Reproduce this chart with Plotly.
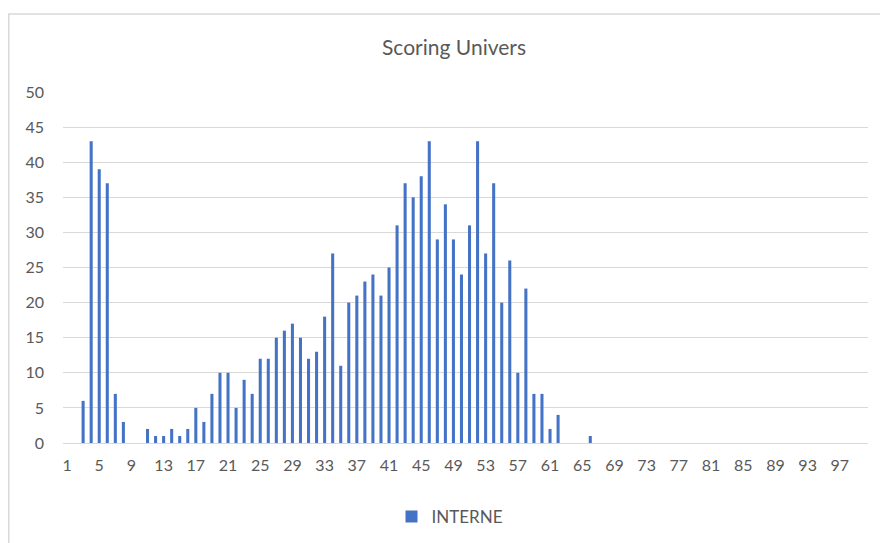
import plotly.graph_objects as go

scores = list(range(1, 101))
counts = [0, 0, 6, 43, 39, 37, 7, 3, 0, 0,
          2, 1, 1, 2, 1, 2, 5, 3, 7, 10,
          10, 5, 9, 7, 12, 12, 15, 16, 17, 15,
          12, 13, 18, 27, 11, 20, 21, 23, 24, 21,
          25, 31, 37, 35, 38, 43, 29, 34, 29, 24,
          31, 43, 27, 37, 20, 26, 10, 22, 7, 7,
          2, 4, 0, 0, 0, 1, 0, 0, 0, 0,
          0, 0, 0, 0, 0, 0, 0, 0, 0, 0,
          0, 0, 0, 0, 0, 0, 0, 0, 0, 0,
          0, 0, 0, 0, 0, 0, 0, 0, 0, 0]
series_name = "INTERNE"
title_text = "Scoring Univers"
x_tick_labels = [str(v) for v in range(1, 101, 4)]
y_ticks = [0, 5, 10, 15, 20, 25, 30, 35, 40, 45, 50]

# page body has an 8px margin, so work in figure coordinates = screen - 8
OFF = 8
W, H = 888 - OFF, 543 - OFF
L, T = 63 - OFF, 92 - OFF
R = W - (868 - OFF)
B = H - (443 - OFF)
pw, ph = W - L - R, H - T - B

font_family = "Lato, 'Open Sans', sans-serif"
grey_text = "#595959"
grid = "#d9d9d9"

fig = go.Figure()
fig.add_trace(go.Bar(x=scores, y=counts, name=series_name,
                     marker=dict(color="#4472C4", line=dict(width=0)),
                     showlegend=True))

fig.update_layout(
    width=W, height=H,
    margin=dict(l=L, r=R, t=T, b=B, autoexpand=False),
    paper_bgcolor="white", plot_bgcolor="white",
    bargap=0.62,
    title=dict(text=title_text, x=(454 - OFF) / W, xref="container", xanchor="center",
               y=1 - (48 - OFF) / H, yref="container", yanchor="middle",
               font=dict(family=font_family, size=21, color=grey_text)),
    font=dict(family=font_family, color=grey_text, size=16),
    showlegend=True,
    legend=dict(orientation="h", xref="container", yref="container",
                x=(450 - OFF) / W, xanchor="center", y=1 - (517 - OFF) / H, yanchor="middle",
                font=dict(size=17, color=grey_text), itemwidth=30),
    xaxis=dict(type="linear", range=[0.5, 100.5],
               tickmode="array", tickvals=list(range(1, 101, 4)), ticktext=x_tick_labels,
               showgrid=False, zeroline=False, showline=True, linecolor=grid, linewidth=1,
               ticks="", ticklabelstandoff=8, tickfont=dict(size=16, color=grey_text)),
    yaxis=dict(range=[0, 50], tickmode="array", tickvals=y_ticks,
               showgrid=True, gridcolor=grid, gridwidth=1, zeroline=False,
               showline=False, ticks="", ticklabelstandoff=18,
               tickfont=dict(size=16, color=grey_text)),
    shapes=[dict(type="rect", xref="paper", yref="paper",
                 x0=(8 - OFF + 0.75 - L) / pw, x1=1 + (W + 20 - (W - R)) / pw,
                 y0=-(H + 20 - (H - B)) / ph, y1=1 + (T - (14 - OFF)) / ph,
                 line=dict(color=grid, width=1.5), fillcolor="rgba(0,0,0,0)",
                 layer="below")],
)

fig.write_html("out.html")
